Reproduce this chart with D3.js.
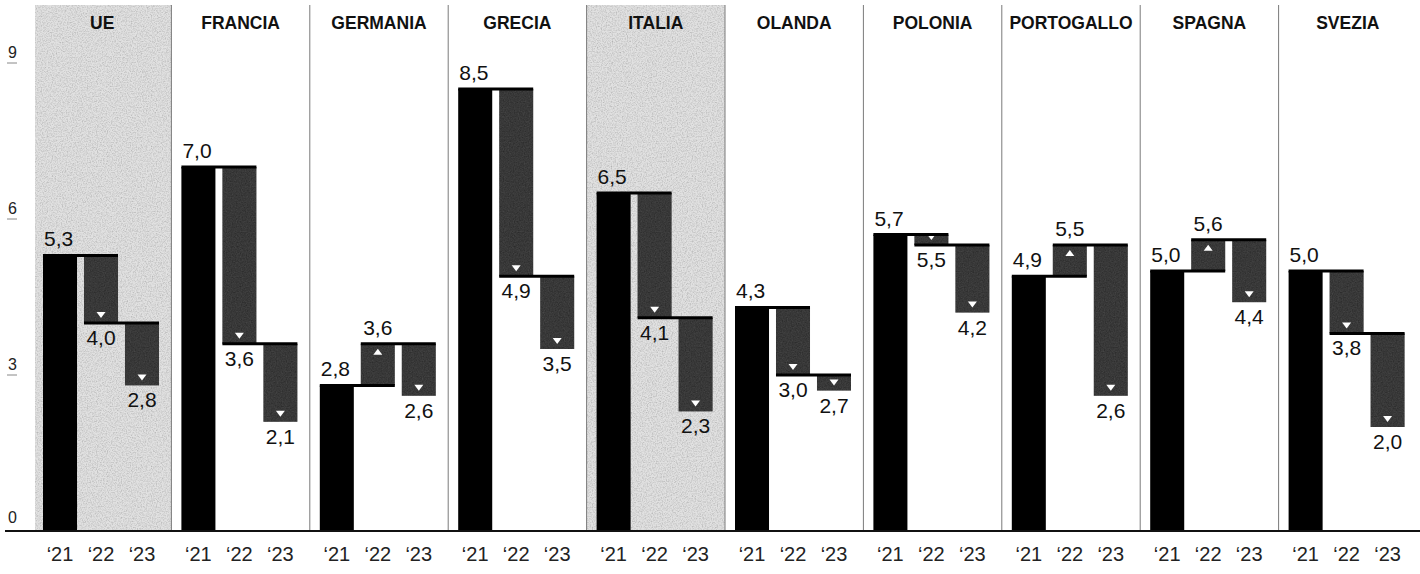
<!DOCTYPE html>
<html>
<head>
<meta charset="utf-8">
<script src="https://cdn.jsdelivr.net/npm/d3@7"></script>
<style>
  body { margin: 0; background: #fff; }
  svg { display: block; }
</style>
</head>
<body>
<svg id="chart"></svg>
<script>
// dati
var countries = ["UE", "FRANCIA", "GERMANIA", "GRECIA", "ITALIA", "OLANDA", "POLONIA", "PORTOGALLO", "SPAGNA", "SVEZIA"];
var highlighted = ["UE", "ITALIA"];
var years = ["‘21", "‘22", "‘23"];
var v21 = [5.3, 7.0, 2.8, 8.5, 6.5, 4.3, 5.7, 4.9, 5.0, 5.0];
var v22 = [4.0, 3.6, 3.6, 4.9, 4.1, 3.0, 5.5, 5.5, 5.6, 3.8];
var v23 = [2.8, 2.1, 2.6, 3.5, 2.3, 2.7, 4.2, 2.6, 4.4, 2.0];
var yTicks = [0, 3, 6, 9];

var svgWidth = 1420, svgHeight = 574;
var topY = 5, baseY = 531;
var font = "Liberation Sans, Arial, sans-serif";

var svg = d3.select("#chart")
    .attr("width", svgWidth)
    .attr("height", svgHeight);

// grana leggera per barre e pannelli
var defs = svg.append("defs");
function grain(id, offset, alpha) {
    var f = defs.append("filter").attr("id", id)
        .attr("color-interpolation-filters", "sRGB")
        .attr("x", 0).attr("y", 0).attr("width", 1).attr("height", 1);
    f.append("feTurbulence").attr("type", "fractalNoise")
        .attr("baseFrequency", 0.8).attr("numOctaves", 2).attr("seed", 5).attr("result", "noise");
    var row = "0.6 0.6 0 0 " + offset + "  ";
    f.append("feColorMatrix").attr("in", "noise").attr("type", "matrix")
        .attr("values", row + row + row + "0 0 0 0 " + alpha)
        .attr("result", "g");
    f.append("feComposite").attr("in", "g").attr("in2", "SourceGraphic").attr("operator", "in").attr("result", "gi");
    var m = f.append("feMerge");
    m.append("feMergeNode").attr("in", "SourceGraphic");
    m.append("feMergeNode").attr("in", "gi");
}
grain("grainDark", -0.1, 0.15);
grain("grainLight", 0.3, 0.35);

var x = d3.scaleBand()
    .domain(countries)
    .range([33, 1417]);

var xi = d3.scaleBand()
    .domain(years)
    .range([10, 126])
    .paddingInner(0.17);

var y = d3.scaleLinear()
    .domain([0, 8.5])
    .range([baseY, 89]);

var fmt = function(v){ return d3.format(".1f")(v).replace(".", ","); };

// pannelli evidenziati
svg.selectAll("rect.hl")
    .data(highlighted)
    .enter()
    .append("rect")
    .attr("class", "hl")
    .attr("x", function(d){ return x(d) + (d === countries[0] ? 2 : 0); })
    .attr("y", topY)
    .attr("width", function(d){ return x.bandwidth() - (d === countries[0] ? 2 : 0); })
    .attr("height", baseY - topY)
    .attr("fill", "#d2d2d2")
    .attr("filter", "url(#grainLight)");

// separatori
svg.selectAll("line.sep")
    .data(countries.slice(1))
    .enter()
    .append("line")
    .attr("x1", function(d){ return x(d); })
    .attr("x2", function(d){ return x(d); })
    .attr("y1", topY)
    .attr("y2", baseY)
    .attr("stroke", "#7a7a7a")
    .attr("stroke-width", 1);

// asse y
var yg = svg.append("g");
yg.selectAll("text")
    .data(yTicks)
    .enter()
    .append("text")
    .attr("x", 8)
    .attr("y", function(d){ return y(d) - (d === 0 ? 8 : 5); })
    .attr("font-family", font)
    .attr("font-size", 16)
    .attr("fill", "#222")
    .text(function(d){ return d; });
yg.selectAll("line")
    .data(yTicks.slice(1))
    .enter()
    .append("line")
    .attr("x1", 7).attr("x2", 17)
    .attr("y1", function(d){ return y(d); })
    .attr("y2", function(d){ return y(d); })
    .attr("stroke", "#888")
    .attr("stroke-width", 1);

// titoli
svg.selectAll("text.title")
    .data(countries)
    .enter()
    .append("text")
    .attr("x", function(d){ return x(d) + x.bandwidth() / 2; })
    .attr("y", 29)
    .attr("text-anchor", "middle")
    .attr("font-family", font)
    .attr("font-weight", "bold")
    .attr("font-size", 17.5)
    .attr("fill", "#111")
    .text(function(d){ return d; });

var panels = svg.selectAll("g.panel")
    .data(countries)
    .enter()
    .append("g")
    .attr("transform", function(d){ return "translate(" + x(d) + ",0)"; });

panels.each(function(c, i) {
    var g = d3.select(this);
    var a = v21[i], b = v22[i], e = v23[i];
    var bw = xi.bandwidth();
    var x1 = xi(years[0]), x2 = xi(years[1]), x3 = xi(years[2]);

    // barra 2021
    g.append("rect")
        .attr("x", x1).attr("y", y(a))
        .attr("width", bw).attr("height", baseY - y(a))
        .attr("fill", "#000");

    // barre variazione
    [[a, b, x2], [b, e, x3]].forEach(function(s) {
        var from = s[0], to = s[1], bx = s[2];
        g.append("rect")
            .attr("x", bx).attr("y", y(Math.max(from, to)))
            .attr("width", bw).attr("height", Math.abs(y(from) - y(to)))
            .attr("fill", "#2c2c2c")
            .attr("filter", "url(#grainDark)");
        var cx = bx + bw / 2;
        var tri;
        if (to < from) {
            var ty = y(to) - 5;
            tri = [[cx - 4.5, ty - 6], [cx + 4.5, ty - 6], [cx, ty]];
        } else {
            var ty2 = y(to) + 5;
            tri = [[cx - 4.5, ty2 + 6], [cx + 4.5, ty2 + 6], [cx, ty2]];
        }
        g.append("path")
            .attr("d", d3.line()(tri) + "Z")
            .attr("fill", "#fff");
    });

    // linee di collegamento
    [[a, x1, x2], [b, x2, x3]].forEach(function(s) {
        g.append("line")
            .attr("x1", s[1]).attr("x2", s[2] + bw)
            .attr("y1", y(s[0])).attr("y2", y(s[0]))
            .attr("stroke", "#000").attr("stroke-width", 3);
    });

    // etichette
    g.append("text")
        .attr("x", x1 + 1).attr("y", y(a) - 9)
        .attr("font-family", font).attr("font-size", 21).attr("fill", "#111")
        .text(fmt(a));
    [[a, b, x2], [b, e, x3]].forEach(function(s) {
        var from = s[0], to = s[1];
        g.append("text")
            .attr("x", s[2] + bw / 2)
            .attr("y", to < from ? y(to) + 22 : y(to) - 9)
            .attr("text-anchor", "middle")
            .attr("font-family", font).attr("font-size", 21).attr("fill", "#111")
            .text(fmt(to));
    });

    // anni
    g.selectAll("text.yr")
        .data(years)
        .enter()
        .append("text")
        .attr("x", function(d){ return xi(d) + bw / 2; })
        .attr("y", 561)
        .attr("text-anchor", "middle")
        .attr("font-family", font).attr("font-size", 20).attr("fill", "#222")
        .text(function(d){ return d; });
});

// linea base
svg.append("line")
    .attr("x1", 5).attr("x2", 1420)
    .attr("y1", baseY).attr("y2", baseY)
    .attr("stroke", "#111").attr("stroke-width", 2);
</script>
</body>
</html>
